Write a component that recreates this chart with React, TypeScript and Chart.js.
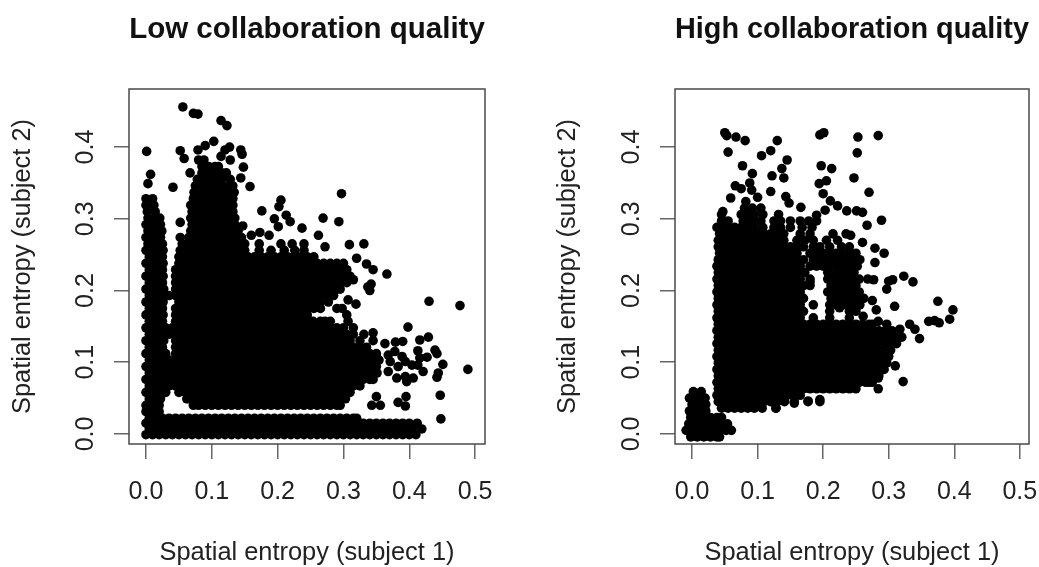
import React, { useEffect, useRef } from "react";
import { Chart, registerables } from "chart.js";

Chart.register(...registerables);

const lowTitle = "Low collaboration quality";
const highTitle = "High collaboration quality";
const xAxisLabel = "Spatial entropy (subject 1)";
const yAxisLabel = "Spatial entropy (subject 2)";
const xTickValues = [0, 0.1, 0.2, 0.3, 0.4, 0.5];
const yTickValues = [0, 0.1, 0.2, 0.3, 0.4];

// All values below are thousandths. Rows: [y, x, x, x...]
const lowStripRows: number[][] = [
  [-1, 0, 10, 20, 30, 40, 50, 60, 70, 80, 90, 100, 110, 120, 130, 140, 150, 160, 170, 180, 190, 200, 210, 220, 230, 240, 250, 260, 270, 280, 290, 300, 310, 320, 330, 340, 350, 360, 370, 380, 390, 400, 410],
  [7, 5, 15, 25, 35, 45, 55, 65, 75, 85, 95, 105, 115, 125, 135, 145, 155, 165, 175, 185, 195, 205, 215, 225, 235, 245, 255, 265, 275, 285, 295, 305, 315, 325, 335, 345, 355, 365, 375, 385, 395, 405, 419],
  [15, 0, 10, 20, 30, 40, 50, 60, 70, 80, 90, 100, 110, 120, 130, 140, 150, 160, 170, 180, 190, 200, 210, 220, 230, 240, 250, 260, 270, 280, 290, 300, 310, 320, 330, 340, 350, 360, 370, 380, 390, 400, 412],
  [22, 5, 15, 25, 35, 45, 55, 65, 75, 85, 95, 105, 115, 125, 135, 145, 155, 165, 175, 185, 195, 205, 215, 225, 235, 245, 255, 265, 275, 285, 295, 305, 315, 320],
];
const lowMassRows: number[][] = [
  [31, 0, 10, 20],
  [40, 0, 10, 20, 72, 80, 90, 100, 110, 120, 130, 140, 150, 160, 170, 180, 190, 200, 210, 220, 230, 240, 250, 260, 270, 280, 290, 295],
  [49, 5, 15, 22, 62, 65, 75, 85, 95, 105, 115, 125, 135, 145, 155, 165, 175, 185, 195, 205, 215, 225, 235, 245, 255, 265, 275, 285, 295, 303],
  [58, 0, 10, 20, 30, 50, 60, 70, 80, 90, 100, 110, 120, 130, 140, 150, 160, 170, 180, 190, 200, 210, 220, 230, 240, 250, 260, 270, 280, 290, 300, 310],
  [67, 5, 15, 25, 35, 45, 55, 65, 75, 85, 95, 105, 115, 125, 135, 145, 155, 165, 175, 185, 195, 205, 215, 225, 235, 245, 255, 265, 275, 285, 295, 305, 315, 325],
  [76, 0, 10, 20, 30, 40, 50, 60, 70, 80, 90, 100, 110, 120, 130, 140, 150, 160, 170, 180, 190, 200, 210, 220, 230, 240, 250, 260, 270, 280, 290, 300, 310, 320, 330, 340, 345],
  [85, 5, 15, 25, 35, 45, 55, 65, 75, 85, 95, 105, 115, 125, 135, 145, 155, 165, 175, 185, 195, 205, 215, 225, 235, 245, 255, 265, 275, 285, 295, 305, 315, 325, 335, 345, 351],
  [94, 0, 10, 20, 30, 40, 50, 60, 70, 80, 90, 100, 110, 120, 130, 140, 150, 160, 170, 180, 190, 200, 210, 220, 230, 240, 250, 260, 270, 280, 290, 300, 310, 320, 330, 340, 350],
  [103, 5, 15, 25, 35, 45, 55, 65, 75, 85, 95, 105, 115, 125, 135, 145, 155, 165, 175, 185, 195, 205, 215, 225, 235, 245, 255, 265, 275, 285, 295, 305, 315, 325, 335, 345, 354],
  [112, 0, 10, 20, 30, 45, 50, 60, 70, 80, 90, 100, 110, 120, 130, 140, 150, 160, 170, 180, 190, 200, 210, 220, 230, 240, 250, 260, 270, 280, 290, 300, 310, 320, 330, 340, 350],
  [121, 5, 15, 25, 45, 55, 65, 75, 85, 95, 105, 115, 125, 135, 145, 155, 165, 175, 185, 195, 205, 215, 225, 235, 245, 255, 265, 275, 285, 295, 305, 315, 325, 335],
  [130, 0, 10, 20, 27, 45, 50, 60, 70, 80, 90, 100, 110, 120, 130, 140, 150, 160, 170, 180, 190, 200, 210, 220, 230, 240, 250, 260, 270, 280, 290, 300, 310, 325],
  [139, 5, 15, 25, 35, 45, 55, 65, 75, 85, 95, 105, 115, 125, 135, 145, 155, 165, 175, 185, 195, 205, 215, 225, 235, 245, 255, 265, 275, 285, 295, 305, 315],
  [148, 0, 10, 20, 30, 40, 50, 60, 70, 80, 90, 100, 110, 120, 130, 140, 150, 160, 170, 180, 190, 200, 210, 220, 230, 240, 250, 260, 261, 270, 280, 290, 300, 315],
  [157, 5, 15, 25, 45, 55, 65, 75, 85, 95, 105, 115, 125, 135, 145, 155, 165, 175, 185, 195, 205, 215, 225, 235, 245, 254, 265, 272, 280, 307],
  [166, 0, 10, 20, 26, 45, 50, 60, 70, 80, 90, 100, 110, 120, 130, 140, 150, 160, 170, 180, 190, 200, 210, 220, 230, 240, 245, 305],
  [175, 5, 15, 25, 45, 55, 65, 75, 85, 95, 105, 115, 125, 135, 145, 155, 165, 175, 185, 195, 205, 215, 225, 235, 245, 255, 265, 290, 298],
  [184, 0, 10, 20, 26, 50, 60, 70, 80, 90, 100, 110, 120, 130, 140, 150, 160, 170, 180, 190, 200, 210, 220, 230, 240, 250, 260, 265, 277],
  [193, 5, 15, 25, 35, 45, 55, 65, 75, 85, 95, 105, 115, 125, 135, 145, 155, 165, 175, 185, 195, 205, 215, 225, 235, 245, 255, 265, 275, 285],
  [202, 0, 10, 20, 27, 45, 50, 60, 70, 80, 90, 100, 110, 120, 130, 140, 150, 160, 170, 180, 190, 200, 210, 220, 230, 240, 250, 260, 270, 280, 290, 295],
  [211, 5, 15, 25, 45, 55, 65, 75, 85, 95, 105, 115, 125, 135, 145, 155, 165, 175, 185, 195, 205, 215, 225, 235, 245, 255, 265, 275, 285, 295, 305],
  [220, 0, 10, 20, 26, 45, 50, 60, 70, 80, 90, 100, 110, 120, 130, 140, 150, 160, 170, 180, 190, 200, 210, 220, 230, 240, 250, 260, 270, 280, 290, 300, 310],
  [229, 5, 15, 25, 45, 55, 65, 75, 85, 95, 105, 115, 125, 135, 145, 155, 165, 175, 185, 195, 205, 215, 225, 235, 245, 255, 265, 275, 285, 295, 305],
  [238, 0, 10, 20, 26, 50, 60, 70, 80, 90, 100, 110, 120, 130, 140, 150, 160, 170, 180, 190, 200, 210, 220, 230, 240, 250, 260, 270, 280, 290, 300],
  [247, 5, 15, 25, 50, 55, 65, 75, 85, 95, 105, 115, 125, 135, 145, 155, 165, 175, 185, 195, 205, 215, 225, 235, 245, 255],
  [256, 0, 10, 20, 26, 52, 60, 70, 80, 90, 100, 110, 120, 130, 140, 150, 172, 190, 210, 226, 240],
  [265, 3, 15, 25, 55, 65, 75, 85, 95, 105, 115, 125, 135, 145, 150, 172, 205, 222, 240],
  [274, 0, 10, 22, 52, 65, 75, 85, 95, 105, 115, 125, 135, 145],
  [283, 3, 13, 24, 68, 75, 85, 95, 105, 115, 125, 135, 140],
  [292, 0, 10, 22, 70, 80, 90, 100, 110, 120, 130, 135],
  [301, 3, 13, 21, 68, 75, 85, 95, 105, 115, 125, 135],
  [310, 2, 14, 70, 80, 90, 100, 110, 120, 132],
  [319, 0, 12, 68, 75, 85, 95, 105, 115, 125, 132],
  [328, 0, 10, 72, 80, 90, 100, 110, 120, 132],
  [337, 73, 85, 95, 105, 115, 125, 134],
  [346, 75, 85, 95, 105, 115, 125, 132],
  [355, 78, 85, 95, 105, 115, 128],
  [364, 85, 95, 105, 115, 122],
  [373, 85, 95, 105, 110],
  [382, 80, 88],
];
const lowOutliers: number[][] = [
  [56, 456], [72, 447], [79, 446], [114, 437], [123, 430], [1, 394], [52, 395], [58, 384], [7, 362], [3, 349], [41, 344],
  [103, 408], [90, 402], [79, 396], [127, 400], [120, 396], [144, 396], [146, 390], [114, 387], [128, 382], [148, 372],
  [144, 357], [158, 345], [67, 364], [176, 311], [205, 326], [202, 317], [213, 305], [195, 300], [219, 296], [147, 290],
  [160, 277], [173, 281], [187, 277], [201, 289], [52, 295], [237, 287], [297, 335], [269, 301], [293, 296], [262, 277],
  [309, 264], [331, 265], [272, 261], [320, 245], [335, 237], [345, 229], [366, 223], [342, 209], [337, 205], [340, 200],
  [315, 215], [307, 187], [319, 181], [430, 185], [477, 179], [398, 149], [429, 135], [416, 131], [390, 129], [379, 128],
  [363, 126], [345, 141], [345, 130], [331, 139], [413, 116], [439, 117], [442, 112], [427, 107], [451, 97], [489, 90],
  [444, 85], [442, 79], [447, 54], [448, 21], [395, 52], [383, 44], [394, 39], [356, 40], [343, 40], [350, 52], [368, 110],
  [378, 115], [389, 108], [394, 101], [371, 101], [383, 94], [368, 87], [381, 78], [396, 73], [406, 78], [421, 87],
  [413, 96], [404, 96], [416, 106], [394, 80],
];

const highClusterRows: number[][] = [
  [-4, -2, 8, 18, 28, 38, 42],
  [5, -9, 3, 13, 23, 33, 43, 52, 60],
  [14, -5, 5, 15, 25, 35, 45, 54],
  [23, -2, 8, 18, 28, 38, 45],
  [32, -4, 5, 15, 21],
  [41, 0, 10, 21],
  [50, -4, 5, 15, 20],
  [59, 2, 14],
];
const highMassRows: number[][] = [
  [36, 45, 55, 65, 75, 85, 95, 107, 128],
  [45, 40, 50, 60, 70, 80, 90, 100, 110, 120, 130, 141, 156, 177, 195],
  [54, 38, 45, 55, 65, 75, 85, 95, 105, 115, 125, 135, 145, 155, 165],
  [63, 40, 50, 60, 70, 80, 90, 100, 110, 120, 130, 140, 150, 160, 170, 180, 190, 200, 210, 220, 230, 240, 250],
  [72, 38, 45, 55, 65, 75, 85, 95, 105, 115, 125, 135, 145, 155, 165, 175, 185, 195, 205, 215, 225, 235, 245, 255, 265, 275],
  [81, 40, 50, 60, 70, 80, 90, 100, 110, 120, 130, 140, 150, 160, 170, 180, 190, 200, 210, 220, 230, 240, 250, 260, 270, 280, 285],
  [90, 38, 45, 55, 65, 75, 85, 95, 105, 115, 125, 135, 145, 155, 165, 175, 185, 195, 205, 215, 225, 235, 245, 255, 265, 275, 285, 293],
  [99, 40, 50, 60, 70, 80, 90, 100, 110, 120, 130, 140, 150, 160, 170, 180, 190, 200, 210, 220, 230, 240, 250, 260, 270, 280, 290, 297],
  [108, 38, 45, 55, 65, 75, 85, 95, 105, 115, 125, 135, 145, 155, 165, 175, 185, 195, 205, 215, 225, 235, 245, 255, 265, 275, 285, 295, 300],
  [117, 40, 50, 60, 70, 80, 90, 100, 110, 120, 130, 140, 150, 160, 170, 180, 190, 200, 210, 220, 230, 240, 250, 260, 270, 280, 290, 303],
  [126, 38, 45, 55, 65, 75, 85, 95, 105, 115, 125, 135, 145, 155, 165, 175, 185, 195, 205, 215, 225, 235, 245, 255, 265, 275, 285, 295, 305, 312],
  [135, 40, 50, 60, 70, 80, 90, 100, 110, 120, 130, 140, 150, 160, 170, 180, 190, 200, 210, 220, 230, 240, 250, 260, 270, 280, 290, 300, 310, 320],
  [144, 38, 45, 55, 65, 75, 85, 95, 105, 115, 125, 135, 145, 155, 165, 175, 185, 195, 205, 215, 225, 235, 245, 255, 265, 275, 285, 295, 305],
  [153, 40, 50, 60, 70, 80, 90, 100, 110, 120, 130, 140, 150, 160, 170, 180, 190, 200, 210, 220, 230, 240, 250, 260, 270, 275],
  [162, 38, 45, 55, 65, 75, 85, 95, 105, 115, 125, 135, 145, 155, 165, 185, 210, 240],
  [171, 40, 50, 60, 70, 80, 90, 100, 110, 120, 130, 140, 150, 160, 170, 210, 240, 250],
  [180, 38, 45, 55, 65, 75, 85, 95, 105, 115, 125, 135, 145, 155, 165, 185, 210, 220, 230, 240, 250, 256],
  [189, 40, 50, 60, 70, 80, 90, 100, 110, 120, 130, 140, 150, 160, 170, 212, 222, 232, 242, 252, 262],
  [198, 38, 45, 55, 65, 75, 85, 95, 105, 115, 125, 135, 145, 155, 165, 207, 215, 225, 235, 245, 255],
  [207, 40, 50, 60, 70, 80, 90, 100, 110, 120, 130, 140, 150, 160, 170, 180, 212, 222, 232, 242, 250],
  [216, 38, 45, 55, 65, 75, 85, 95, 105, 115, 125, 135, 145, 155, 165, 180, 207, 215, 225, 235, 245, 255, 268],
  [225, 40, 50, 60, 70, 80, 90, 100, 110, 120, 130, 140, 150, 160, 172, 207, 220, 230, 240, 247],
  [234, 38, 45, 55, 65, 75, 85, 95, 105, 115, 125, 135, 145, 155, 165, 180, 190, 200, 210, 220, 230, 240, 252],
  [243, 40, 50, 60, 70, 80, 90, 100, 110, 120, 130, 140, 150, 160, 170, 185, 195, 205, 215, 225, 235, 245, 256],
  [252, 42, 50, 60, 70, 80, 90, 100, 110, 120, 130, 140, 150, 160, 180, 190, 200, 210, 220, 230, 240, 250],
  [261, 40, 50, 60, 70, 80, 90, 100, 110, 120, 130, 140, 150, 160, 170, 185, 195, 210, 228, 240],
  [270, 40, 45, 55, 65, 75, 85, 95, 105, 115, 125, 135, 140, 160, 172, 185, 205, 222],
  [279, 42, 50, 60, 70, 80, 90, 100, 110, 120, 130, 140, 165, 180, 215, 235],
  [288, 38, 45, 55, 65, 75, 85, 95, 108, 125, 135, 150, 168, 183],
  [297, 45, 55, 78, 85, 95, 105, 125, 135, 150, 165, 178, 190],
  [306, 45, 75, 85, 95, 108, 132],
  [315, 80, 92, 105],
];
const highOutliers: number[][] = [
  [50, 420], [53, 416], [67, 414], [81, 409], [130, 409], [55, 393], [106, 388], [120, 395], [145, 382], [77, 374],
  [137, 370], [122, 360], [140, 357], [92, 363], [88, 350], [66, 346], [75, 342], [91, 340], [120, 338], [100, 330],
  [59, 329], [143, 331], [148, 322], [82, 324], [166, 316], [47, 310], [195, 417], [201, 420], [197, 374], [213, 370],
  [205, 353], [194, 349], [200, 335], [211, 325], [222, 318], [236, 311], [203, 312], [190, 305], [253, 414], [284, 416],
  [252, 392], [247, 357], [270, 337], [251, 311], [260, 309], [289, 298], [267, 291], [242, 277], [260, 267], [279, 259],
  [293, 252], [279, 239], [277, 215], [323, 220], [306, 215], [300, 213], [337, 212], [297, 202], [275, 186], [309, 178],
  [281, 173], [375, 185], [398, 173], [393, 160], [361, 157], [370, 158], [377, 155], [332, 153], [340, 146], [317, 146],
  [347, 133], [284, 157], [297, 153], [261, 164], [310, 95], [322, 73], [284, 63], [284, 78], [270, 72], [245, 73],
  [264, 81], [177, 46], [195, 48], [128, 36], [156, 43], [225, 176], [180, 212],
];

const rowsToPoints = (rows: number[][]) =>
  rows.flatMap(([y, ...xs]) => xs.map((x) => ({ x: x / 1000, y: y / 1000 })));
const pairsToPoints = (pairs: number[][]) => pairs.map(([x, y]) => ({ x: x / 1000, y: y / 1000 }));

const lowPoints = [...rowsToPoints(lowStripRows), ...rowsToPoints(lowMassRows), ...pairsToPoints(lowOutliers)];
const highPoints = [...rowsToPoints(highClusterRows), ...rowsToPoints(highMassRows), ...pairsToPoints(highOutliers)];

const FONT = "'Liberation Sans', Arial, sans-serif";
const INK = "#222";
const FRAME = "#4a4a4a";
const TICK = "#666";

const framePlugin = {
  id: "frame",
  afterDatasetsDraw(chart: any) {
    const { ctx, chartArea: a } = chart;
    ctx.save();
    ctx.strokeStyle = FRAME;
    ctx.lineWidth = 1.5;
    ctx.strokeRect(a.left, a.top, a.right - a.left, a.bottom - a.top);
    ctx.restore();
  },
};

function makeConfig(title: string, data: { x: number; y: number }[], xMin: number, xMax: number, rightPad: number, leftWidth: number): any {
  return {
    type: "scatter",
    data: { datasets: [{ data, backgroundColor: "#000", pointBorderWidth: 0, pointRadius: 4.8, pointHoverRadius: 4.8 }] },
    plugins: [framePlugin],
    options: {
      responsive: false,
      animation: false,
      events: [],
      layout: { padding: { left: 0, right: rightPad, top: 0, bottom: 0 } },
      plugins: {
        legend: { display: false },
        tooltip: { enabled: false },
        title: {
          display: true,
          text: title,
          fullSize: false,
          color: "#111",
          font: { family: FONT, size: 29.5, weight: "bold", lineHeight: 1.2 },
          padding: { top: 12.3, bottom: 41.3 },
        },
      },
      scales: {
        x: {
          type: "linear",
          min: xMin,
          max: xMax,
          afterBuildTicks: (s: any) => { s.ticks = xTickValues.map((value) => ({ value })); },
          afterFit: (s: any) => { s.height = 123; },
          grid: { drawOnChartArea: false, drawTicks: true, tickLength: 15, color: TICK, lineWidth: 1.5 },
          border: { display: false },
          ticks: {
            autoSkip: false,
            maxRotation: 0,
            minRotation: 0,
            padding: 18,
            color: INK,
            font: { family: FONT, size: 25 },
            callback: (v: number) => Number(v).toFixed(1),
          },
          title: {
            display: true,
            text: xAxisLabel,
            color: INK,
            font: { family: FONT, size: 25.4, lineHeight: 1.1 },
            padding: { top: 0, bottom: 0 },
          },
        },
        y: {
          type: "linear",
          min: -0.014,
          max: 0.481,
          afterBuildTicks: (s: any) => { s.ticks = yTickValues.map((value) => ({ value })); },
          afterFit: (s: any) => { s.width = leftWidth; },
          grid: { drawOnChartArea: false, drawTicks: true, tickLength: 15, color: TICK, lineWidth: 1.5 },
          border: { display: false },
          ticks: {
            autoSkip: false,
            minRotation: 90,
            maxRotation: 90,
            crossAlign: "center",
            padding: 11,
            color: INK,
            font: { family: FONT, size: 25 },
            callback: (v: number) => Number(v).toFixed(1),
          },
          title: {
            display: true,
            text: yAxisLabel,
            color: INK,
            font: { family: FONT, size: 25.4, lineHeight: 1.1 },
            padding: { top: 9, bottom: 0 },
          },
        },
      },
    },
  };
}

export default function App() {
  const leftRef = useRef<HTMLCanvasElement>(null);
  const rightRef = useRef<HTMLCanvasElement>(null);
  useEffect(() => {
    const a = new Chart(leftRef.current as any, makeConfig(lowTitle, lowPoints, -0.0258, 0.515, 60, 129));
    const b = new Chart(rightRef.current as any, makeConfig(highTitle, highPoints, -0.026, 0.514, 61, 130));
    return () => { a.destroy(); b.destroy(); };
  }, []);
  return (
    <div style={{ position: "absolute", left: 0, top: 0, width: 1039, height: 567, background: "#fff", overflow: "hidden" }}>
      <canvas ref={leftRef} width={545} height={567} style={{ position: "absolute", left: 0, top: 0 }} />
      <canvas ref={rightRef} width={545} height={567} style={{ position: "absolute", left: 545, top: 0 }} />
    </div>
  );
}
